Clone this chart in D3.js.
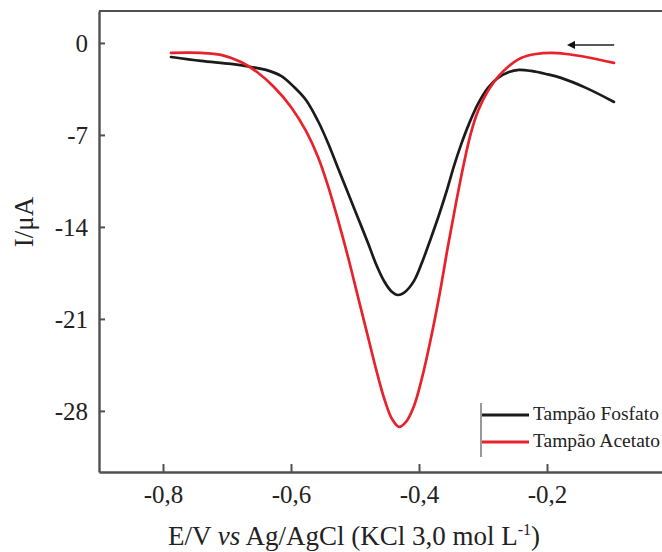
<!DOCTYPE html>
<html>
<head>
<meta charset="utf-8">
<script src="https://cdn.jsdelivr.net/npm/d3@7"></script>
<style>
  html, body { margin: 0; padding: 0; background: #fff; }
  svg { display: block; }
  text { font-family: "Liberation Serif", "Times New Roman", serif; fill: #222; }
</style>
</head>
<body>
<svg id="chart" width="662" height="552"></svg>
<script>
// ---- data ----
const eFosfato = [-0.7875, -0.7406, -0.6938, -0.6625, -0.6391, -0.6156, -0.5953, -0.5766, -0.5578, -0.5422, -0.5266, -0.5109, -0.4953, -0.4797, -0.4672, -0.4547, -0.4438, -0.4328, -0.4219, -0.4078, -0.3938, -0.3813, -0.3688, -0.3563, -0.3453, -0.3344, -0.3219, -0.3078, -0.2922, -0.2766, -0.2594, -0.2438, -0.2250, -0.2016, -0.1781, -0.1391, -0.0953];
const iFosfato = [-1.07, -1.37, -1.60, -1.83, -2.05, -2.51, -3.35, -4.34, -5.94, -7.61, -9.51, -11.42, -13.32, -15.22, -16.82, -18.11, -18.87, -19.18, -18.95, -18.11, -16.51, -14.84, -13.09, -11.19, -9.36, -7.76, -6.16, -4.64, -3.42, -2.66, -2.21, -2.05, -2.13, -2.36, -2.66, -3.42, -4.49];
const eAcetato = [-0.7875, -0.7406, -0.7094, -0.6781, -0.6531, -0.6266, -0.6000, -0.5766, -0.5578, -0.5422, -0.5266, -0.5109, -0.4953, -0.4797, -0.4656, -0.4531, -0.4422, -0.4313, -0.4203, -0.4078, -0.3953, -0.3813, -0.3672, -0.3547, -0.3422, -0.3297, -0.3188, -0.3078, -0.2922, -0.2766, -0.2594, -0.2406, -0.2172, -0.1938, -0.1703, -0.1391, -0.0953];
const iAcetato = [-0.76, -0.76, -0.91, -1.45, -2.21, -3.35, -4.87, -6.70, -8.68, -10.88, -13.47, -16.29, -19.33, -22.37, -25.11, -27.25, -28.61, -29.22, -28.84, -27.63, -25.49, -22.45, -18.95, -15.45, -12.18, -9.13, -6.85, -5.18, -3.65, -2.59, -1.75, -1.14, -0.84, -0.76, -0.84, -1.07, -1.52];
const seriesNames = ["Tampão Fosfato", "Tampão Acetato"];
const xTicks = [-0.8, -0.6, -0.4, -0.2];
const yTicks = [0, -7, -14, -21, -28];
const xDomain = [-0.9, 0.0];
const yDomain = [2.43, -32.65];
const arrowE = [-0.095, -0.16];
const arrowI = -0.15;

// ---- layout ----
const svg = d3.select("#chart");
const mL = 99, mR = 675, mT = 11, mB = 472;
const x = d3.scaleLinear().domain(xDomain).range([mL, mR]);
const y = d3.scaleLinear().domain(yDomain).range([mT, mB]);
const axisColor = "#505050";
const fmt = d => d3.format(".1f")(d).replace("−", "-").replace(".", ",");

// frame
svg.append("line").attr("x1", mL).attr("x2", 662).attr("y1", mT).attr("y2", mT)
  .attr("stroke", axisColor).attr("stroke-width", 2.2);

// x axis
const xAxis = svg.append("g").attr("transform", `translate(0,${mB})`)
  .call(d3.axisBottom(x).tickValues(xTicks).tickSize(-8).tickSizeOuter(0).tickFormat(d => fmt(d)));
xAxis.select(".domain").attr("stroke", axisColor).attr("stroke-width", 2.4);
xAxis.selectAll(".tick line").attr("stroke", axisColor).attr("stroke-width", 2);
xAxis.selectAll(".tick text").attr("font-size", 25).attr("font-family", "Liberation Serif")
  .attr("fill", "#222").attr("dy", null).attr("y", 31);

// y axis
const yAxis = svg.append("g").attr("transform", `translate(${mL},0)`)
  .call(d3.axisLeft(y).tickValues(yTicks).tickSize(-6).tickSizeOuter(0).tickFormat(d => d3.format("d")(d).replace("−", "-")));
yAxis.select(".domain").attr("stroke", axisColor).attr("stroke-width", 2.4);
yAxis.selectAll(".tick line").attr("stroke", axisColor).attr("stroke-width", 2);
yAxis.selectAll(".tick text").attr("font-size", 25).attr("font-family", "Liberation Serif")
  .attr("fill", "#222").attr("x", -11).attr("dy", "0.36em");

// axis titles
const xt = svg.append("text").attr("x", 354).attr("y", 545).attr("text-anchor", "middle").attr("font-size", 27);
xt.append("tspan").text("E/V ");
xt.append("tspan").attr("font-style", "italic").text("vs");
xt.append("tspan").text(" Ag/AgCl (KCl 3,0 mol L");
xt.append("tspan").attr("font-size", 16).attr("dy", -10).text("-1");
xt.append("tspan").attr("dy", 10).text(")");

svg.append("text").attr("transform", "translate(33,222) rotate(-90)")
  .attr("text-anchor", "middle").attr("font-size", 27).text("I/μA");

// curves
const line = d3.line().x(d => x(d[0])).y(d => y(d[1])).curve(d3.curveCatmullRom.alpha(0.5));
const dataF = eFosfato.map((e, i) => [e, iFosfato[i]]);
const dataA = eAcetato.map((e, i) => [e, iAcetato[i]]);
const colors = ["#1b1b1b", "#e8222b"];
svg.append("path").datum(dataF).attr("d", line).attr("fill", "none")
  .attr("stroke", colors[0]).attr("stroke-width", 2.7).attr("stroke-linecap", "round");
svg.append("path").datum(dataA).attr("d", line).attr("fill", "none")
  .attr("stroke", colors[1]).attr("stroke-width", 2.7).attr("stroke-linecap", "round");

// scan direction arrow
svg.append("defs").append("marker").attr("id", "ah").attr("viewBox", "0 0 10 10")
  .attr("refX", 2).attr("refY", 5).attr("markerWidth", 7).attr("markerHeight", 6)
  .attr("markerUnits", "userSpaceOnUse").attr("orient", "auto")
  .append("path").attr("d", "M0,0 L10,5 L0,10 z").attr("fill", "#111");
svg.append("defs").append("marker").attr("id", "ah2").attr("viewBox", "0 0 10 10")
  .attr("refX", 3).attr("refY", 5).attr("markerWidth", 9).attr("markerHeight", 8)
  .attr("markerUnits", "userSpaceOnUse").attr("orient", "auto")
  .append("path").attr("d", "M0,0 L10,5 L0,10 z").attr("fill", "#111");
svg.append("line").attr("x1", x(arrowE[0])).attr("x2", x(arrowE[1])).attr("y1", y(arrowI)).attr("y2", y(arrowI))
  .attr("stroke", "#222").attr("stroke-width", 1.5).attr("marker-end", "url(#ah2)");

// legend
const lg = svg.append("g");
lg.append("line").attr("x1", 481).attr("x2", 481).attr("y1", 403).attr("y2", 457)
  .attr("stroke", "#777").attr("stroke-width", 1.5);
seriesNames.forEach((name, i) => {
  const yy = 415 + i * 27;
  lg.append("line").attr("x1", 482).attr("x2", 529).attr("y1", yy).attr("y2", yy)
    .attr("stroke", colors[i]).attr("stroke-width", 2.8);
  lg.append("text").attr("x", 533).attr("y", yy + 5).attr("font-size", 19.5).text(name);
});
</script>
</body>
</html>
